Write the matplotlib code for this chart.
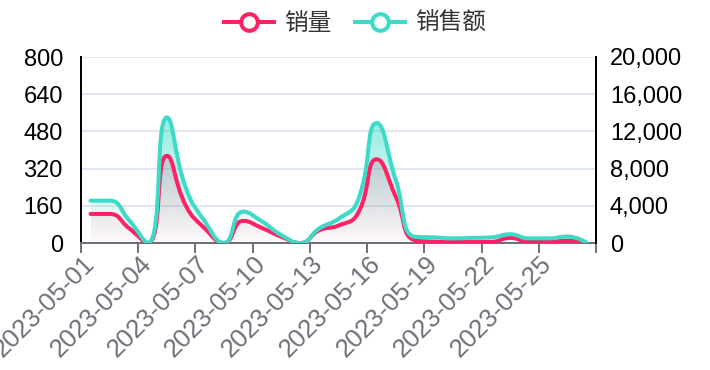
import numpy as np
import matplotlib
matplotlib.use("Agg")
import matplotlib.pyplot as plt
from matplotlib.path import Path
from matplotlib.patches import PathPatch
from matplotlib.lines import Line2D
from matplotlib.colors import to_rgb

plt.rcParams['font.family'] = ['Liberation Sans', 'Noto Sans CJK SC']

dates = [f"2023-05-{d:02d}" for d in range(1, 28)]
qty = [125, 125, 65, 0, 375, 160, 62, 0, 95, 64, 27, 0, 55, 75, 125, 360,
       200, 12, 6, 4, 5, 5, 22, 5, 5, 10, 0]
amount = [4550, 4550, 2500, 0, 13500, 5900, 2300, 0, 3370, 2300, 860, 0, 1580,
          2600, 4500, 12900, 6800, 680, 600, 500, 550, 600, 940, 500, 500, 700, 50]
names = ['销量', '销售额']
red = '#ff2164'
teal = '#3ddbc7'


def smooth_path(xs, ys, sx, sy, smooth=0.5):
    # echarts style bezier smoothing, worked out in pixel-like units
    px = np.asarray(xs, float) * sx
    py = np.asarray(ys, float) * sy
    n = len(px)
    c0 = [(px[i], py[i]) for i in range(n)]
    c1 = [(px[i], py[i]) for i in range(n)]
    for i in range(1, n - 1):
        x, y = px[i], py[i]
        ax_, ay_ = px[i - 1], py[i - 1]
        bx, by = px[i + 1], py[i + 1]
        vx, vy = bx - ax_, by - ay_
        l0 = np.hypot(x - ax_, y - ay_)
        l1 = np.hypot(bx - x, by - y)
        r = l1 / (l0 + l1)
        c1x = np.clip(x + vx * smooth * r, min(x, bx), max(x, bx))
        c1y = np.clip(y + vy * smooth * r, min(y, by), max(y, by))
        vx, vy = c1x - x, c1y - y
        c0x = np.clip(x - vx * l0 / l1, min(ax_, x), max(ax_, x))
        c0y = np.clip(y - vy * l0 / l1, min(ay_, y), max(ay_, y))
        vx, vy = x - c0x, y - c0y
        c0[i] = (c0x, c0y)
        c1[i] = (x + vx * l1 / l0, y + vy * l1 / l0)
    verts = [(px[0], py[0])]
    codes = [Path.MOVETO]
    for i in range(1, n):
        verts += [c1[i - 1], c0[i], (px[i], py[i])]
        codes += [Path.CURVE4] * 3
    verts = np.array(verts) / [sx, sy]
    return verts, codes


def draw_series(ax_line, ax_area, trans, xs, ys, sy, color, a_top, a_bot, z_area, z_line):
    verts, codes = smooth_path(xs, ys, 19.07, sy)
    line = PathPatch(Path(verts, codes), fill=False, ec=color, lw=2.9,
                     capstyle='round', joinstyle='round', transform=trans, zorder=z_line)
    ax_line.add_patch(line)
    area_v = np.vstack([verts, [[xs[-1], 0], [xs[0], 0], [xs[0], 0]]])
    area_c = codes + [Path.LINETO, Path.LINETO, Path.CLOSEPOLY]
    clip = PathPatch(Path(area_v, area_c), fc='none', ec='none', transform=trans)
    ax_area.add_patch(clip)
    grad = np.zeros((256, 1, 4))
    grad[:, 0, :3] = to_rgb(color)
    grad[:, 0, 3] = np.linspace(a_top, a_bot, 256)
    im = ax_area.imshow(grad, extent=[xs[0], xs[-1], 0, max(ys)], aspect='auto',
                        transform=trans, zorder=z_area, interpolation='bilinear')
    im.set_clip_path(clip)


fig = plt.figure(figsize=(7.1, 3.7), dpi=100)
ax = fig.add_axes([81 / 710, 1 - 243 / 370, 515 / 710, 186 / 370])
ax2 = ax.twinx()

x = np.arange(len(dates))
ax.set_xlim(-0.5, len(dates) - 0.5)
ax.set_ylim(0, 800)
ax2.set_ylim(0, 20000)

draw_series(ax2, ax, ax.transData, x, qty, 0.2325, red, 0.25, 0.02, 1, 3)
draw_series(ax2, ax2, ax2.transData, x, amount, 0.0093, teal, 0.55, 0.0, 2, 4)

ax.set_yticks(np.arange(0, 801, 160))
ax2.set_yticks(np.arange(0, 20001, 4000))
ax2.set_yticklabels([f"{v:,}" for v in range(0, 20001, 4000)])
ax.grid(axis='y', color='#e0e6f1', lw=1.4)
ax.set_axisbelow(True)

ax.set_xticks(np.arange(-0.5, len(dates), 3))
ax.set_xticklabels([])
ax.set_xticks(x[::3], minor=True)
ax.set_xticklabels(dates[::3], minor=True, rotation=45, ha='right',
                   va='center', rotation_mode='anchor')
ax.tick_params(axis='x', which='major', length=7, width=1.4, color='#6e7079')
ax.tick_params(axis='x', which='minor', length=0, pad=12, labelsize=18.5,
               labelcolor='#6e7079')
ax.tick_params(axis='y', length=0, pad=13, labelsize=17, labelcolor='black')
ax2.tick_params(axis='y', length=0, pad=10, labelsize=17, labelcolor='black')

for a in (ax, ax2):
    a.spines['top'].set_visible(False)
ax.spines['right'].set_visible(False)
ax2.spines['left'].set_visible(False)
ax2.spines['bottom'].set_visible(False)
ax.spines['left'].set_linewidth(1.44)
ax.spines['left'].set_color('black')
ax2.spines['right'].set_linewidth(1.44)
ax2.spines['right'].set_color('black')
ax.spines['bottom'].set_linewidth(1.44)
ax.spines['bottom'].set_color('#6e7079')

handles = [Line2D([], [], color=c, lw=2.9, marker='o', markersize=12,
                  markerfacecolor='white', markeredgewidth=2.9)
           for c in (red, teal)]
fig.legend(handles, names, loc='center', bbox_to_anchor=(0.5, 0.937), ncol=2,
           frameon=False, handlelength=2.1, handletextpad=0.45,
           columnspacing=1.0, prop={'family': 'Noto Sans CJK SC', 'size': 17},
           labelcolor='#333333')

fig.savefig('out.png', dpi=100)
